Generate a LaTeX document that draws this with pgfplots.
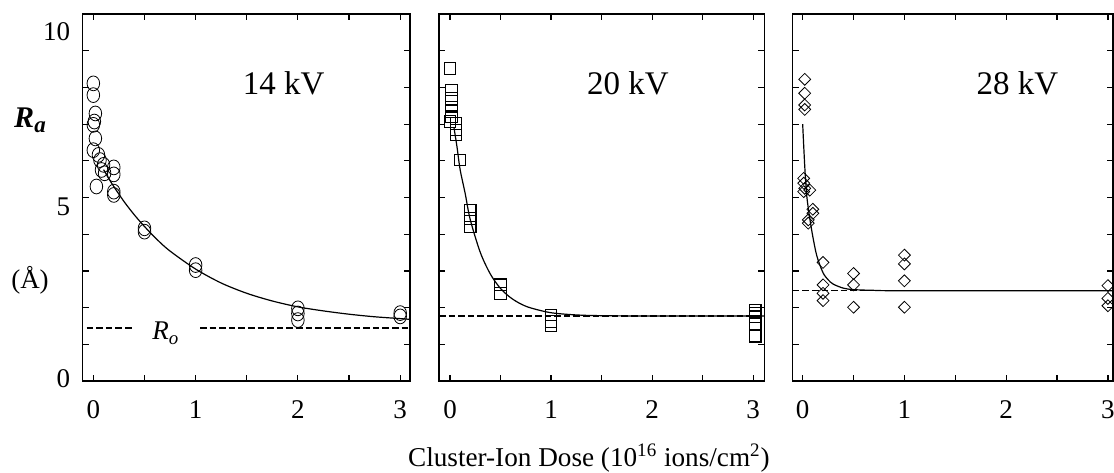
\documentclass[border=0pt]{standalone}
\usepackage{fontspec}
\setmainfont{Liberation Serif}
\usepackage{pgfplots}
\pgfplotsset{compat=1.18}

\pgfplotsset{
  panel/.style={
    scale only axis,
    height=183.5pt,
    ymin=0, ymax=10,
    xtick={0,1,2,3},
    minor xtick={0.5,1.5,2.5},
    tick align=inside,
    major tick length=3pt,
    minor tick length=3pt,
    axis line style={line width=0.65pt},
    every tick/.append style={line width=0.6pt, black},
    tick label style={font=\fontsize{13.5}{16}\selectfont},
    xticklabel style={anchor=base, yshift=-18.5pt},
    /pgf/number format/assume math mode=true,
    clip=false,
  },
  pts/.style={only marks, mark options={line width=0.55pt, black}},
  fit/.style={black, line width=0.6pt, smooth, no marks},
  ro/.style={black, line width=0.7pt, dash pattern=on 3.3pt off 1.5pt, no marks},
}

\begin{document}
\begin{tikzpicture}
\useasboundingbox (0,0) rectangle (557pt,236pt);

% 14 kV
\begin{axis}[panel,
  at={(41.35pt,45.5pt)}, anchor=south west,
  width=163.65pt,
  xmin=-0.104, xmax=3.096,
  ytick={0.07,4.74,9.52}, yticklabels={0,5,10},
  major y tick style={draw=none},
  minor ytick={1,...,9},
  yticklabel style={xshift=-2.8pt},
]
\addplot[pts, mark=o, mark size=3.7pt, mark options={xscale=0.85}] coordinates {
  (0,8.11) (0,7.79) (0.02,7.29) (0.01,7.07) (0,6.98) (0.02,6.61)
  (0,6.29) (0.05,6.16) (0.065,6.02) (0.1,5.89) (0.08,5.75) (0.11,5.66)
  (0.03,5.3) (0.2,5.82) (0.2,5.63) (0.2,5.16) (0.2,5.07)
  (0.5,4.16) (0.5,4.07) (1,3.16) (1,3.02)
  (2,1.98) (2,1.84) (2,1.66) (3,1.85) (3,1.76)
};
\addplot[fit] coordinates {
  (0.1,5.76) (0.15,5.52) (0.2,5.30) (0.3,4.89) (0.4,4.53) (0.5,4.21)
  (0.625,3.85) (0.75,3.54) (1.0,3.05) (1.25,2.67) (1.5,2.39) (1.75,2.18)
  (2.0,2.02) (2.25,1.91) (2.5,1.82) (2.75,1.75) (3.0,1.70) (3.096,1.68)
};
\addplot[ro] coordinates {(-0.065,1.44) (0.375,1.44)};
\addplot[ro] coordinates {(1.043,1.44) (3.096,1.44)};
\node[font=\fontsize{13.5}{15}\selectfont\itshape] at (axis cs:0.71,1.3) {R\textsubscript{o}};
\node[font=\fontsize{16.5}{19}\selectfont] at (axis cs:1.86,8.12) {14 kV};
\end{axis}

% 20 kV
\begin{axis}[panel,
  at={(219.5pt,45.5pt)}, anchor=south west,
  width=162.65pt,
  xmin=-0.109, xmax=3.11,
  ytick={1,...,9}, yticklabels={},
  xlabel={Cluster-Ion Dose (10\textsuperscript{16} ions/cm\textsuperscript{2})},
  xlabel style={at={(axis description cs:0.461,0)}, anchor=base, yshift=-42.85pt,
    font=\fontsize{13.6}{16}\selectfont},
]
\addplot[pts, mark=square, mark size=2.9pt] coordinates {
  (0,8.52) (0.017,7.93) (0.017,7.7) (0.017,7.47) (0.017,7.34) (0.017,7.2)
  (0,7.07) (0.06,7.02) (0.06,6.84) (0.06,6.7) (0.1,6.02)
  (0.2,4.66) (0.2,4.43) (0.2,4.2) (0.5,2.62) (0.5,2.39)
  (1,1.8) (1,1.62) (1,1.5)
  (3.02,1.93) (3.02,1.85) (3.02,1.75) (3.02,1.57) (3.02,1.22)
};
\addplot[fit] coordinates {
  (0.04,6.89) (0.07,6.36) (0.1,5.76) (0.15,5.11) (0.2,4.40) (0.3,3.50)
  (0.4,2.91) (0.5,2.52) (0.6,2.27) (0.7,2.10) (0.8,1.99) (1.0,1.86)
  (1.25,1.80) (1.5,1.78) (2.0,1.77) (3.11,1.77)
};
\addplot[ro] coordinates {(-0.109,1.77) (3.11,1.77)};
\node[font=\fontsize{16.5}{19}\selectfont] at (axis cs:1.76,8.12) {20 kV};
\end{axis}

% 28 kV
\begin{axis}[panel,
  at={(396.35pt,45.5pt)}, anchor=south west,
  width=160.15pt,
  xmin=-0.098, xmax=3.05,
  ytick={1,...,9}, yticklabels={},
]
\addplot[pts, mark=square, mark size=2.1pt, mark options={rotate=45}] coordinates {
  (0.02,8.22) (0.02,7.84) (0.02,7.52) (0.02,7.4)
  (0.01,5.52) (0.01,5.39) (0.02,5.25) (0.01,5.16) (0.07,5.2)
  (0.1,4.68) (0.1,4.57) (0.055,4.39) (0.055,4.3)
  (0.2,3.23) (0.2,2.62) (0.2,2.39) (0.2,2.19)
  (0.5,2.93) (0.5,2.62) (0.5,2.01)
  (1,3.43) (1,3.19) (1,2.73) (1,2.01)
  (3,2.6) (3,2.25) (3,2.05)
};
\addplot[fit] coordinates {
  (0.0,7.0) (0.02,5.87) (0.04,5.05) (0.07,4.43) (0.1,3.93) (0.14,3.40)
  (0.2,2.95) (0.25,2.76) (0.3,2.64) (0.4,2.53) (0.5,2.49) (0.7,2.47)
  (1.0,2.46) (3.05,2.46)
};
\addplot[ro] coordinates {(-0.098,2.46) (3.05,2.46)};
\node[font=\fontsize{16.5}{19}\selectfont] at (axis cs:2.11,8.12) {28 kV};
\end{axis}

\node[font=\fontsize{15}{17}\selectfont\bfseries\itshape] at (15pt,176pt)
  {R\raisebox{-0.35ex}{\fontsize{11.5}{13}\selectfont a}};
\node[font=\fontsize{13.5}{16}\selectfont] at (15pt,96pt) {(Å)};
\end{tikzpicture}
\end{document}
